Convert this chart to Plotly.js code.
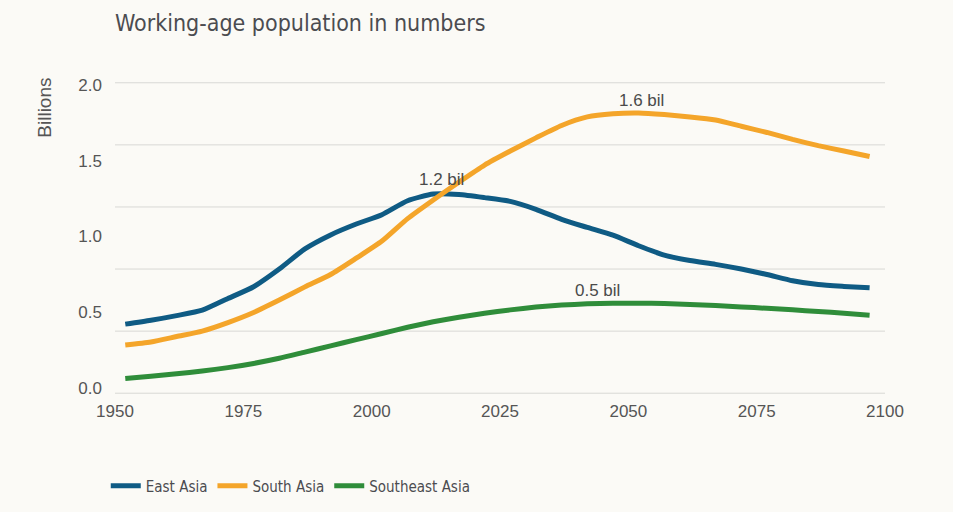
<!DOCTYPE html>
<html>
<head>
<meta charset="utf-8">
<script src="https://cdn.plot.ly/plotly-3.0.1.min.js"></script>
<style>
  html, body { margin: 0; padding: 0; background: #fbfaf6; }
  #chart { width: 953px; height: 512px; }
</style>
</head>
<body>
<div id="chart"></div>
<script>
// Years (x positions of the sampled points)
const years = [1952, 1957, 1962, 1967, 1972, 1977, 1982, 1987, 1992, 1997,
               2002, 2007, 2012, 2017, 2022, 2027, 2032, 2037, 2042, 2047,
               2052, 2057, 2062, 2067, 2072, 2077, 2082, 2087, 2092, 2097];

// Series values (in the chart's own axis units)
const eastAsia = [0.445, 0.47, 0.50, 0.535, 0.61, 0.686, 0.80, 0.93, 1.02, 1.09,
                  1.15, 1.24, 1.283, 1.28, 1.26, 1.236, 1.185, 1.12, 1.068, 1.018,
                  0.95, 0.89, 0.855, 0.83, 0.80, 0.765, 0.725, 0.70, 0.688, 0.679];
const southAsia = [0.31, 0.33, 0.365, 0.40, 0.455, 0.52, 0.60, 0.685, 0.765, 0.87,
                   0.98, 1.125, 1.245, 1.36, 1.47, 1.56, 1.645, 1.725, 1.78, 1.80,
                   1.805, 1.795, 1.78, 1.76, 1.72, 1.68, 1.635, 1.595, 1.56, 1.525];
const southeastAsia = [0.095, 0.11, 0.125, 0.143, 0.165, 0.192, 0.225, 0.265, 0.305, 0.345,
                       0.385, 0.425, 0.46, 0.49, 0.515, 0.537, 0.555, 0.568, 0.576, 0.58,
                       0.58, 0.578, 0.572, 0.565, 0.556, 0.547, 0.537, 0.527, 0.515, 0.503];

const seriesNames = ["East Asia", "South Asia", "Southeast Asia"];
const xTickVals = [1950, 1975, 2000, 2025, 2050, 2075, 2100];
const yGridVals = [0, 0.4, 0.8, 1.2, 1.6, 2.0];
const yLabelVals = [0, 0.5, 1.0, 1.5, 2.0];
const yLabelText = ["0.0", "0.5", "1.0", "1.5", "2.0"];

// Peak labels
const peakLabels = ["1.6 bil", "1.2 bil", "0.5 bil"];
const peakLabelX = [2052.5, 2013.7, 2043.9];
const peakLabelY = [1.884, 1.374, 0.665];

const colors = ["#0f5b84", "#f4a52a", "#2f8d3a"];
const condensed = "'Liberation Sans Narrow', 'DejaVu Sans Condensed', 'Roboto', sans-serif";
const sans = "'Liberation Sans', 'Helvetica', 'Arial', sans-serif";

const seriesData = [eastAsia, southAsia, southeastAsia];
const traces = seriesData.map((vals, i) => ({
  type: "scatter",
  mode: "lines",
  x: years,
  y: vals,
  name: seriesNames[i],
  line: { color: colors[i], width: 5, shape: "spline", smoothing: 0.6 },
  hoverinfo: "skip"
}));

// Invisible trace on the label axis so it is drawn
traces.push({
  type: "scatter", mode: "lines", x: [1950, 2100], y: [null, null],
  yaxis: "y2", showlegend: false, hoverinfo: "skip"
});

const annotations = peakLabels.map((t, i) => ({
  x: peakLabelX[i], y: peakLabelY[i], xref: "x", yref: "y",
  text: t, showarrow: false,
  font: { family: sans, size: 17, color: "#4a4a4a" }
}));

annotations.push({
  xref: "paper", yref: "paper", x: -0.091, y: 1.02,
  xanchor: "center", yanchor: "top",
  text: "Billions", textangle: -90, showarrow: false,
  font: { family: sans, size: 19, color: "#555555" }
});

// Horizontal grid lines drawn from the grid values
const gridShapes = yGridVals.map(v => ({
  type: "line", layer: "below",
  xref: "paper", x0: 0, x1: 1,
  yref: "y", y0: v, y1: v,
  line: { color: "#d8d8d5", width: 1 }
}));

const layout = {
  width: 953,
  height: 512,
  paper_bgcolor: "#fbfaf6",
  plot_bgcolor: "#fbfaf6",
  margin: { l: 115, r: 68, t: 82, b: 118, autoexpand: false },
  title: {
    text: "Working-age population in numbers",
    x: 115 / 953, xanchor: "left", xref: "container",
    y: 0.955, yanchor: "middle",
    font: { family: condensed, size: 23, color: "#4b4c50" }
  },
  xaxis: {
    range: [1950, 2100],
    tickvals: xTickVals,
    ticktext: xTickVals.map(String),
    showgrid: false,
    zeroline: false,
    showline: false,
    ticks: "",
    ticklabelstandoff: 5,
    tickfont: { family: sans, size: 17, color: "#555555" }
  },
  yaxis: {
    range: [-0.005, 2.005],
    showticklabels: false,
    showgrid: false,
    zeroline: false,
    showline: false,
    ticks: ""
  },
  yaxis2: {
    overlaying: "y",
    side: "left",
    range: [-0.0396, 2.0198],
    tickvals: yLabelVals,
    ticktext: yLabelText,
    showgrid: false,
    zeroline: false,
    showline: false,
    ticks: "",
    ticklabelstandoff: 12,
    tickfont: { family: sans, size: 17, color: "#555555" }
  },
  showlegend: true,
  legend: {
    orientation: "h",
    x: -0.012, xanchor: "left",
    y: -0.295, yanchor: "middle",
    bgcolor: "rgba(0,0,0,0)",
    font: { family: condensed, size: 15, color: "#4b4c50" },
    itemwidth: 30
  },
  shapes: gridShapes,
  annotations: annotations
};

Plotly.newPlot("chart", traces, layout, { displayModeBar: false, staticPlot: true });
</script>
</body>
</html>
